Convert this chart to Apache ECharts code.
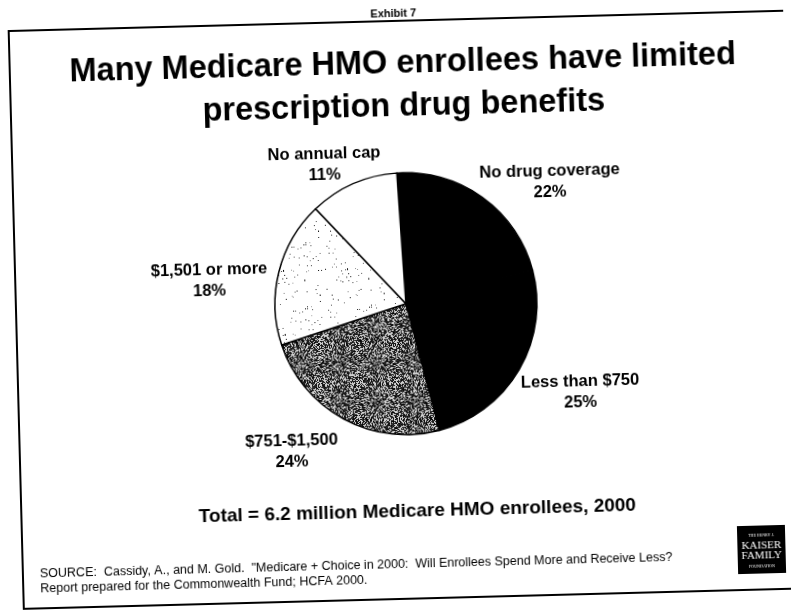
<!DOCTYPE html>
<html>
<head>
<meta charset="utf-8">
<title>Medicare HMO prescription drug benefits</title>
<script src="https://cdn.jsdelivr.net/npm/echarts@6/dist/echarts.min.js"></script>
<style>
  html, body { margin: 0; padding: 0; background: #ffffff; overflow: hidden; }
  #chart { width: 791px; height: 611px; transform: rotate(-1.5deg); transform-origin: 50% 50%; }
</style>
</head>
<body>
<div id="chart"></div>
<script>
// Benefit categories, clockwise from 12 o'clock
const categories = ['No drug coverage', 'Less than $750', '$751-$1,500', '$1,501 or more', 'No annual cap'];
// Share of Medicare HMO enrollees, percent
const shares = [22, 25, 24, 18, 11];

const titleLines = ['Many Medicare HMO enrollees have limited', 'prescription drug benefits'];
const exhibitLabel = 'Exhibit 7';
const totalNote = 'Total = 6.2 million Medicare HMO enrollees, 2000';
const sourceLines = [
  'SOURCE:  Cassidy, A., and M. Gold.  "Medicare + Choice in 2000:  Will Enrollees Spend More and Receive Less?',
  'Report prepared for the Commonwealth Fund; HCFA 2000.'
];

// Stippled fill textures built from a deterministic hash
function hash(x, y, s) {
  const v = Math.sin(x * 127.1 + y * 311.7 + s * 74.7) * 43758.5453;
  return v - Math.floor(v);
}
function stipple(size, darkRatio, seed, base, maxTone) {
  const c = document.createElement('canvas');
  c.width = size; c.height = size;
  const g = c.getContext('2d');
  g.fillStyle = base;
  g.fillRect(0, 0, size, size);
  for (let y = 0; y < size; y++) {
    for (let x = 0; x < size; x++) {
      const h = hash(x, y, seed);
      if (h < darkRatio) {
        const t = Math.floor(hash(y, x, seed + 3) * maxTone);
        g.fillStyle = 'rgb(' + t + ',' + t + ',' + t + ')';
        g.fillRect(x, y, 1, 1);
      }
    }
  }
  return c;
}
const darkStipple = { image: stipple(64, 0.6, 1, '#cfcfcf', 60), repeat: 'repeat' };
const lightStipple = { image: stipple(64, 0.018, 7, '#ffffff', 170), repeat: 'repeat' };
const sliceFills = ['#000000', '#000000', darkStipple, lightStipple, '#ffffff'];

// Label block centres, in slice order
const labelSpots = [[553, 186], [578, 397], [288, 449], [210, 276], [328, 163]];

const FONT = '"Liberation Sans", Arial, Helvetica, sans-serif';
const SERIF = '"Liberation Serif", "DejaVu Serif", serif';

const chart = echarts.init(document.getElementById('chart'), null, { renderer: 'canvas' });

const graphics = [
  { type: 'rect', shape: { x: 16, y: 21, width: 800, height: 578 },
    style: { fill: 'none', stroke: '#000', lineWidth: 2 }, z: 1 },
  { type: 'text', x: 401, y: 14, z: 5,
    style: { text: exhibitLabel, font: 'bold 11px ' + FONT, fill: '#000', align: 'center', verticalAlign: 'middle' } },
  { type: 'text', x: 409, y: 64, z: 5,
    style: { text: titleLines[0], font: 'bold 32.5px ' + FONT, fill: '#000', align: 'center', verticalAlign: 'middle' } },
  { type: 'text', x: 409, y: 107, z: 5,
    style: { text: titleLines[1], font: 'bold 32.5px ' + FONT, fill: '#000', align: 'center', verticalAlign: 'middle' } },
  { type: 'text', x: 412, y: 512, z: 5,
    style: { text: totalNote, font: 'bold 19px ' + FONT, fill: '#000', align: 'center', verticalAlign: 'middle' } },
  { type: 'text', x: 33, y: 565, z: 5,
    style: { text: sourceLines[0], font: '12.5px ' + FONT, fill: '#000', align: 'left', verticalAlign: 'middle' } },
  { type: 'text', x: 33, y: 580, z: 5,
    style: { text: sourceLines[1], font: '12.5px ' + FONT, fill: '#000', align: 'left', verticalAlign: 'middle' } },
  // Foundation logo
  { type: 'rect', shape: { x: 731, y: 535, width: 48, height: 48 }, style: { fill: '#000' }, z: 5 },
  { type: 'text', x: 755, y: 545, z: 6,
    style: { text: 'THE HENRY J.', font: '4px ' + SERIF, fill: '#fff', align: 'center', verticalAlign: 'middle' } },
  { type: 'text', x: 755, y: 555, z: 6,
    style: { text: 'KAISER', font: '11px ' + SERIF, fill: '#fff', align: 'center', verticalAlign: 'middle' } },
  { type: 'text', x: 755, y: 565, z: 6,
    style: { text: 'FAMILY', font: '11px ' + SERIF, fill: '#fff', align: 'center', verticalAlign: 'middle' } },
  { type: 'text', x: 755, y: 576, z: 6,
    style: { text: 'FOUNDATION', font: '4px ' + SERIF, fill: '#fff', align: 'center', verticalAlign: 'middle' } }
];

chart.setOption({
  backgroundColor: '#ffffff',
  animation: false,
  graphic: graphics,
  series: [{
    type: 'pie',
    center: [406, 304],
    radius: [0, 131],
    startAngle: 92.5,
    clockwise: true,
    avoidLabelOverlap: false,
    itemStyle: { borderColor: '#000', borderWidth: 1.5 },
    label: {
      show: true,
      position: 'outside',
      formatter: '{b}\n{c}%',
      color: '#000',
      fontFamily: FONT,
      fontWeight: 'bold',
      fontSize: 16.5,
      lineHeight: 21,
      align: 'center'
    },
    labelLine: { show: false },
    labelLayout: function (p) {
      const spot = labelSpots[p.dataIndex];
      return { x: spot[0], y: spot[1], align: 'center', verticalAlign: 'middle' };
    },
    emphasis: { disabled: true },
    data: categories.map(function (name, i) {
      return { name: name, value: shares[i], itemStyle: { color: sliceFills[i] } };
    })
  }]
});
</script>
</body>
</html>
